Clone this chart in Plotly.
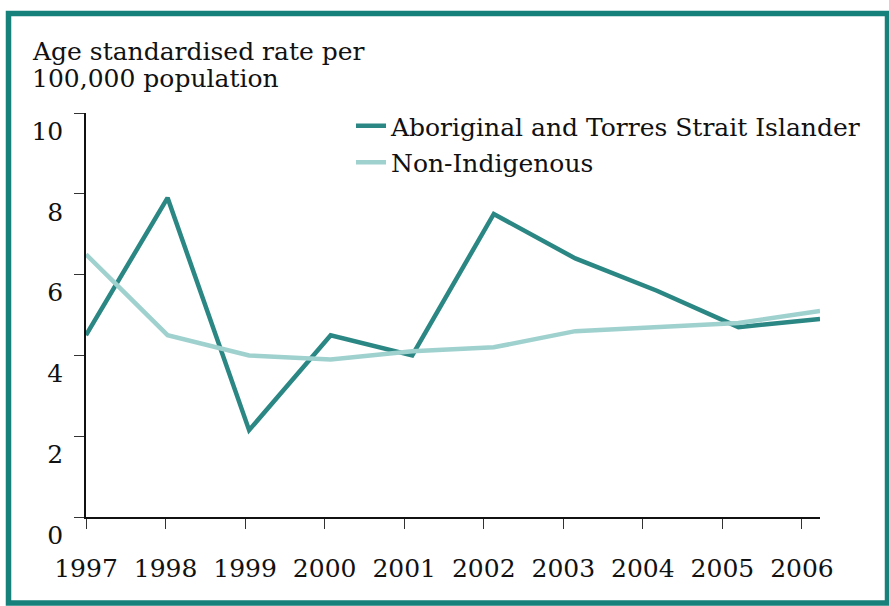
import plotly.graph_objects as go

years = [1997, 1998, 1999, 2000, 2001, 2002, 2003, 2004, 2005, 2006]
aboriginal = [4.5, 7.9, 2.15, 4.5, 4.0, 7.5, 6.4, 5.6, 4.7, 4.9]
non_indigenous = [6.5, 4.5, 4.0, 3.9, 4.1, 4.2, 4.6, 4.7, 4.8, 5.1]
y_ticks = [0, 2, 4, 6, 8, 10]
series_names = ["Aboriginal and Torres Strait Islander", "Non-Indigenous"]
y_title_lines = ["Age standardised rate per", "100,000 population"]

W, H = 889, 606
L, R, T, B = 86, 69, 113, 89
pw, ph = W - L - R, H - T - B

FONT = "DejaVu Serif"
FS = 25
dark = "#2a8783"
light = "#9fd1cf"
frame = "#16807a"

fig = go.Figure()
fig.add_trace(go.Scatter(x=years, y=aboriginal, name=series_names[0], mode="lines",
                         legendgroup="a",
                         line=dict(color=dark, width=4.5), xaxis="x", yaxis="y"))
fig.add_trace(go.Scatter(x=years, y=non_indigenous, name=series_names[1], mode="lines",
                         legendgroup="b",
                         line=dict(color=light, width=4.5), xaxis="x", yaxis="y"))
# carrier trace for tick axis
fig.add_trace(go.Scatter(x=years, y=[None] * len(years), showlegend=False, hoverinfo="skip",
                         xaxis="x2", yaxis="y"))

fig.update_layout(
    width=W, height=H,
    margin=dict(l=L, r=R, t=T, b=B, pad=0),
    paper_bgcolor="white", plot_bgcolor="white",
    font=dict(family=FONT, size=FS, color="#111111"),
    showlegend=True,
    legend=dict(x=(351 - L) / pw, y=(517 - 103) / ph, xanchor="left", yanchor="top",
                bgcolor="rgba(0,0,0,0)", font=dict(size=FS), tracegroupgap=1,
                itemwidth=30),
    xaxis=dict(range=[1997, 2006], showline=False, showgrid=False, zeroline=False,
               showticklabels=False, ticks=""),
    xaxis2=dict(overlaying="x", side="bottom", range=[1997, 1997 + 9 * 81.44 / 79.44],
                tickvals=years, ticktext=[str(y) for y in years],
                showline=True, linecolor="#111111", linewidth=1.5,
                ticks="outside", ticklen=10, tickwidth=1.2, tickcolor="#333333",
                showgrid=False, zeroline=False, ticklabelstandoff=18,
                tickfont=dict(size=FS)),
    yaxis=dict(range=[0, 10], tickvals=y_ticks, showline=True, linecolor="#111111",
               linewidth=1.5, ticks="outside", ticklen=10, tickwidth=1.2,
               tickcolor="#333333", showgrid=False, zeroline=False,
               ticklabelshift=18, ticklabelstandoff=6, tickfont=dict(size=FS)),
    shapes=[dict(type="rect", xref="paper", yref="paper",
                 x0=(8.5 - L) / pw, x1=(887.5 - L) / pw,
                 y0=(517 - 603) / ph, y1=(517 - 13.5) / ph,
                 line=dict(color=frame, width=5.5), fillcolor="rgba(0,0,0,0)", layer="below")],
    annotations=[
        dict(text=y_title_lines[0], xref="paper", yref="paper", x=(30 - L) / pw,
             y=(517 - 68) / ph, xanchor="left", yanchor="bottom", showarrow=False,
             font=dict(size=FS)),
        dict(text=y_title_lines[1], xref="paper", yref="paper", x=(30 - L) / pw,
             y=(517 - 95) / ph, xanchor="left", yanchor="bottom", showarrow=False,
             font=dict(size=FS)),
    ],
)

fig.write_html("out.html", config={"displayModeBar": False},
               post_script="document.body.style.margin='0';document.body.style.padding='0';")
